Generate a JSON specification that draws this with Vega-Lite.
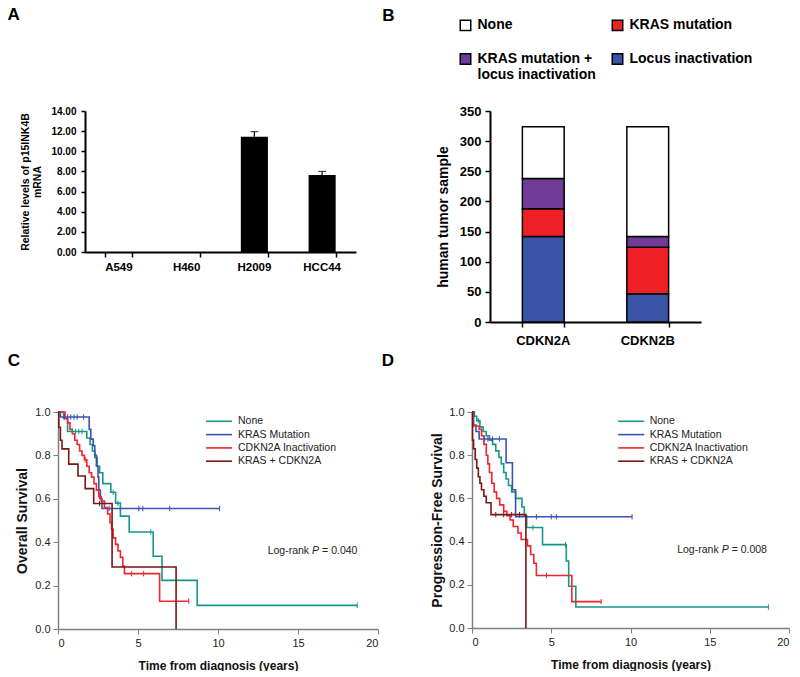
{
  "$schema": "https://vega.github.io/schema/vega-lite/v6.json",
  "background": "white",
  "padding": {"left": 7, "top": 6, "right": 0, "bottom": 0},
  "config": {
    "view": {"stroke": null},
    "font": "Liberation Sans",
    "axis": {"grid": false, "labelOverlap": false},
    "title": {"font": "Liberation Sans", "fontSize": 17, "fontWeight": "bold", "anchor": "start", "color": "black", "frame": "bounds"}
  },
  "resolve": {
    "scale": {"color": "independent", "strokeWidth": "independent"},
    "legend": {"color": "independent", "strokeWidth": "independent"}
  },
  "datasets": {
    "cells": [
      {"cell": "A549", "value": 0},
      {"cell": "H460", "value": 0},
      {"cell": "H2009", "value": 11.45, "upper": 11.95},
      {"cell": "HCC44", "value": 7.65, "upper": 8.0}
    ],
    "tumors": [
      {"gene": "CDKN2A", "category": "Locus inactivation", "count": 142},
      {"gene": "CDKN2A", "category": "KRAS mutation", "count": 46},
      {"gene": "CDKN2A", "category": "KRAS mutation + locus inactivation", "count": 50},
      {"gene": "CDKN2A", "category": "None", "count": 86},
      {"gene": "CDKN2B", "category": "Locus inactivation", "count": 47},
      {"gene": "CDKN2B", "category": "KRAS mutation", "count": 77},
      {"gene": "CDKN2B", "category": "KRAS mutation + locus inactivation", "count": 18},
      {"gene": "CDKN2B", "category": "None", "count": 182}
    ],
    "os": [
      {"group": "None", "t": 0, "s": 1.0}, {"group": "None", "t": 0.35, "s": 0.97}, {"group": "None", "t": 0.6, "s": 0.91}, {"group": "None", "t": 1.8, "s": 0.88}, {"group": "None", "t": 2.0, "s": 0.85}, {"group": "None", "t": 2.15, "s": 0.82}, {"group": "None", "t": 2.3, "s": 0.79}, {"group": "None", "t": 2.45, "s": 0.75}, {"group": "None", "t": 2.6, "s": 0.72}, {"group": "None", "t": 2.8, "s": 0.67}, {"group": "None", "t": 3.3, "s": 0.63}, {"group": "None", "t": 3.6, "s": 0.58}, {"group": "None", "t": 3.9, "s": 0.52}, {"group": "None", "t": 4.45, "s": 0.447}, {"group": "None", "t": 5.95, "s": 0.335}, {"group": "None", "t": 6.5, "s": 0.224}, {"group": "None", "t": 8.7, "s": 0.109}, {"group": "None", "t": 18.7, "s": 0.109},
      {"group": "KRAS Mutation", "t": 0, "s": 1.0}, {"group": "KRAS Mutation", "t": 0.15, "s": 0.977}, {"group": "KRAS Mutation", "t": 1.95, "s": 0.92}, {"group": "KRAS Mutation", "t": 2.05, "s": 0.875}, {"group": "KRAS Mutation", "t": 2.2, "s": 0.845}, {"group": "KRAS Mutation", "t": 2.3, "s": 0.8}, {"group": "KRAS Mutation", "t": 2.4, "s": 0.75}, {"group": "KRAS Mutation", "t": 2.5, "s": 0.7}, {"group": "KRAS Mutation", "t": 2.55, "s": 0.64}, {"group": "KRAS Mutation", "t": 2.65, "s": 0.6}, {"group": "KRAS Mutation", "t": 2.75, "s": 0.555}, {"group": "KRAS Mutation", "t": 10.1, "s": 0.555},
      {"group": "CDKN2A Inactivation", "t": 0, "s": 1.0}, {"group": "CDKN2A Inactivation", "t": 0.44, "s": 0.97}, {"group": "CDKN2A Inactivation", "t": 0.6, "s": 0.95}, {"group": "CDKN2A Inactivation", "t": 0.75, "s": 0.92}, {"group": "CDKN2A Inactivation", "t": 0.9, "s": 0.9}, {"group": "CDKN2A Inactivation", "t": 1.05, "s": 0.87}, {"group": "CDKN2A Inactivation", "t": 1.2, "s": 0.85}, {"group": "CDKN2A Inactivation", "t": 1.35, "s": 0.82}, {"group": "CDKN2A Inactivation", "t": 1.5, "s": 0.8}, {"group": "CDKN2A Inactivation", "t": 1.65, "s": 0.78}, {"group": "CDKN2A Inactivation", "t": 1.8, "s": 0.75}, {"group": "CDKN2A Inactivation", "t": 1.95, "s": 0.72}, {"group": "CDKN2A Inactivation", "t": 2.1, "s": 0.7}, {"group": "CDKN2A Inactivation", "t": 2.25, "s": 0.67}, {"group": "CDKN2A Inactivation", "t": 2.4, "s": 0.64}, {"group": "CDKN2A Inactivation", "t": 2.55, "s": 0.61}, {"group": "CDKN2A Inactivation", "t": 2.7, "s": 0.59}, {"group": "CDKN2A Inactivation", "t": 2.9, "s": 0.56}, {"group": "CDKN2A Inactivation", "t": 3.1, "s": 0.53}, {"group": "CDKN2A Inactivation", "t": 3.25, "s": 0.49}, {"group": "CDKN2A Inactivation", "t": 3.35, "s": 0.46}, {"group": "CDKN2A Inactivation", "t": 3.45, "s": 0.42}, {"group": "CDKN2A Inactivation", "t": 3.6, "s": 0.39}, {"group": "CDKN2A Inactivation", "t": 3.75, "s": 0.36}, {"group": "CDKN2A Inactivation", "t": 3.9, "s": 0.33}, {"group": "CDKN2A Inactivation", "t": 4.05, "s": 0.29}, {"group": "CDKN2A Inactivation", "t": 4.15, "s": 0.255}, {"group": "CDKN2A Inactivation", "t": 6.35, "s": 0.128}, {"group": "CDKN2A Inactivation", "t": 8.17, "s": 0.128},
      {"group": "KRAS + CDKN2A", "t": 0, "s": 1.0}, {"group": "KRAS + CDKN2A", "t": 0.05, "s": 0.93}, {"group": "KRAS + CDKN2A", "t": 0.15, "s": 0.87}, {"group": "KRAS + CDKN2A", "t": 0.25, "s": 0.83}, {"group": "KRAS + CDKN2A", "t": 0.67, "s": 0.76}, {"group": "KRAS + CDKN2A", "t": 1.25, "s": 0.705}, {"group": "KRAS + CDKN2A", "t": 1.7, "s": 0.647}, {"group": "KRAS + CDKN2A", "t": 2.23, "s": 0.578}, {"group": "KRAS + CDKN2A", "t": 3.38, "s": 0.286}, {"group": "KRAS + CDKN2A", "t": 7.38, "s": 0}
    ],
    "os_cens": [
      {"group": "None", "t": 0.9, "s": 0.91}, {"group": "None", "t": 1.1, "s": 0.91}, {"group": "None", "t": 1.3, "s": 0.91}, {"group": "None", "t": 1.5, "s": 0.91}, {"group": "None", "t": 3.45, "s": 0.63}, {"group": "None", "t": 3.75, "s": 0.58}, {"group": "None", "t": 5.8, "s": 0.447}, {"group": "None", "t": 18.7, "s": 0.109},
      {"group": "KRAS Mutation", "t": 0.4, "s": 0.977}, {"group": "KRAS Mutation", "t": 0.6, "s": 0.977}, {"group": "KRAS Mutation", "t": 0.8, "s": 0.977}, {"group": "KRAS Mutation", "t": 1.0, "s": 0.977}, {"group": "KRAS Mutation", "t": 1.2, "s": 0.977}, {"group": "KRAS Mutation", "t": 1.6, "s": 0.977}, {"group": "KRAS Mutation", "t": 3.2, "s": 0.555}, {"group": "KRAS Mutation", "t": 5.05, "s": 0.555}, {"group": "KRAS Mutation", "t": 5.3, "s": 0.555}, {"group": "KRAS Mutation", "t": 6.98, "s": 0.555}, {"group": "KRAS Mutation", "t": 10.1, "s": 0.555},
      {"group": "CDKN2A Inactivation", "t": 1.7, "s": 0.78}, {"group": "CDKN2A Inactivation", "t": 2.6, "s": 0.61}, {"group": "CDKN2A Inactivation", "t": 4.6, "s": 0.255}, {"group": "CDKN2A Inactivation", "t": 5.35, "s": 0.255}, {"group": "CDKN2A Inactivation", "t": 8.17, "s": 0.128},
      {"group": "KRAS + CDKN2A", "t": 2.6, "s": 0.578}
    ],
    "pfs": [
      {"group": "None", "t": 0, "s": 1.0}, {"group": "None", "t": 0.15, "s": 0.98}, {"group": "None", "t": 0.3, "s": 0.96}, {"group": "None", "t": 0.5, "s": 0.93}, {"group": "None", "t": 0.7, "s": 0.91}, {"group": "None", "t": 0.9, "s": 0.89}, {"group": "None", "t": 1.1, "s": 0.87}, {"group": "None", "t": 1.3, "s": 0.85}, {"group": "None", "t": 1.5, "s": 0.82}, {"group": "None", "t": 1.7, "s": 0.79}, {"group": "None", "t": 1.85, "s": 0.76}, {"group": "None", "t": 2.0, "s": 0.72}, {"group": "None", "t": 2.15, "s": 0.69}, {"group": "None", "t": 2.3, "s": 0.66}, {"group": "None", "t": 2.5, "s": 0.63}, {"group": "None", "t": 2.75, "s": 0.6}, {"group": "None", "t": 3.15, "s": 0.56}, {"group": "None", "t": 3.3, "s": 0.52}, {"group": "None", "t": 3.45, "s": 0.465}, {"group": "None", "t": 4.45, "s": 0.386}, {"group": "None", "t": 5.95, "s": 0.31}, {"group": "None", "t": 6.1, "s": 0.193}, {"group": "None", "t": 6.55, "s": 0.097}, {"group": "None", "t": 18.7, "s": 0.097},
      {"group": "KRAS Mutation", "t": 0, "s": 1.0}, {"group": "KRAS Mutation", "t": 0.1, "s": 0.94}, {"group": "KRAS Mutation", "t": 0.25, "s": 0.91}, {"group": "KRAS Mutation", "t": 0.45, "s": 0.875}, {"group": "KRAS Mutation", "t": 2.15, "s": 0.765}, {"group": "KRAS Mutation", "t": 2.55, "s": 0.64}, {"group": "KRAS Mutation", "t": 2.75, "s": 0.515}, {"group": "KRAS Mutation", "t": 10.1, "s": 0.515},
      {"group": "CDKN2A Inactivation", "t": 0, "s": 1.0}, {"group": "CDKN2A Inactivation", "t": 0.05, "s": 0.935}, {"group": "CDKN2A Inactivation", "t": 0.45, "s": 0.92}, {"group": "CDKN2A Inactivation", "t": 0.6, "s": 0.89}, {"group": "CDKN2A Inactivation", "t": 0.75, "s": 0.85}, {"group": "CDKN2A Inactivation", "t": 0.9, "s": 0.8}, {"group": "CDKN2A Inactivation", "t": 1.0, "s": 0.76}, {"group": "CDKN2A Inactivation", "t": 1.1, "s": 0.72}, {"group": "CDKN2A Inactivation", "t": 1.25, "s": 0.67}, {"group": "CDKN2A Inactivation", "t": 1.4, "s": 0.63}, {"group": "CDKN2A Inactivation", "t": 1.55, "s": 0.6}, {"group": "CDKN2A Inactivation", "t": 1.75, "s": 0.57}, {"group": "CDKN2A Inactivation", "t": 2.0, "s": 0.54}, {"group": "CDKN2A Inactivation", "t": 2.2, "s": 0.52}, {"group": "CDKN2A Inactivation", "t": 2.4, "s": 0.5}, {"group": "CDKN2A Inactivation", "t": 2.6, "s": 0.47}, {"group": "CDKN2A Inactivation", "t": 2.9, "s": 0.44}, {"group": "CDKN2A Inactivation", "t": 3.1, "s": 0.41}, {"group": "CDKN2A Inactivation", "t": 3.5, "s": 0.38}, {"group": "CDKN2A Inactivation", "t": 3.7, "s": 0.34}, {"group": "CDKN2A Inactivation", "t": 3.9, "s": 0.3}, {"group": "CDKN2A Inactivation", "t": 4.06, "s": 0.243}, {"group": "CDKN2A Inactivation", "t": 6.3, "s": 0.122}, {"group": "CDKN2A Inactivation", "t": 8.15, "s": 0.122},
      {"group": "KRAS + CDKN2A", "t": 0, "s": 1.0}, {"group": "KRAS + CDKN2A", "t": 0.03, "s": 0.87}, {"group": "KRAS + CDKN2A", "t": 0.1, "s": 0.83}, {"group": "KRAS + CDKN2A", "t": 0.2, "s": 0.78}, {"group": "KRAS + CDKN2A", "t": 0.3, "s": 0.74}, {"group": "KRAS + CDKN2A", "t": 0.4, "s": 0.7}, {"group": "KRAS + CDKN2A", "t": 0.5, "s": 0.67}, {"group": "KRAS + CDKN2A", "t": 0.6, "s": 0.64}, {"group": "KRAS + CDKN2A", "t": 0.75, "s": 0.61}, {"group": "KRAS + CDKN2A", "t": 0.9, "s": 0.58}, {"group": "KRAS + CDKN2A", "t": 1.2, "s": 0.525}, {"group": "KRAS + CDKN2A", "t": 3.4, "s": 0}
    ],
    "pfs_cens": [
      {"group": "None", "t": 0.4, "s": 0.96}, {"group": "None", "t": 3.85, "s": 0.465}, {"group": "None", "t": 5.9, "s": 0.386}, {"group": "None", "t": 18.7, "s": 0.097},
      {"group": "KRAS Mutation", "t": 0.8, "s": 0.875}, {"group": "KRAS Mutation", "t": 1.0, "s": 0.875}, {"group": "KRAS Mutation", "t": 1.3, "s": 0.875}, {"group": "KRAS Mutation", "t": 1.73, "s": 0.875}, {"group": "KRAS Mutation", "t": 4.06, "s": 0.515}, {"group": "KRAS Mutation", "t": 5.0, "s": 0.515}, {"group": "KRAS Mutation", "t": 5.32, "s": 0.515}, {"group": "KRAS Mutation", "t": 10.1, "s": 0.515},
      {"group": "CDKN2A Inactivation", "t": 4.7, "s": 0.243}, {"group": "CDKN2A Inactivation", "t": 8.15, "s": 0.122},
      {"group": "KRAS + CDKN2A", "t": 1.5, "s": 0.525}, {"group": "KRAS + CDKN2A", "t": 2.0, "s": 0.525}, {"group": "KRAS + CDKN2A", "t": 2.5, "s": 0.525}, {"group": "KRAS + CDKN2A", "t": 3.0, "s": 0.525}
    ]
  },
  "columns": 1,
  "align": "none",
  "spacing": 5,
  "concat": [
    {
      "spacing": 26,
      "resolve": {"scale": {"color": "independent"}, "legend": {"color": "independent"}},
      "hconcat": [
        {
          "data": {"name": "cells"},
          "width": 298,
          "height": 141,
          "title": {"text": "A", "offset": 82, "dx": -13},
          "resolve": {"axis": {"x": "independent"}},
          "encoding": {
            "x": {"field": "cell", "type": "nominal", "sort": ["A549", "H460", "H2009", "HCC44"], "scale": {"range": [27, 298], "paddingInner": 0.6, "paddingOuter": 0.3},
              "axis": {"title": null, "labelAngle": 0, "labelFontSize": 11.5, "labelFontWeight": "bold", "labelColor": "black", "labelPadding": 9, "domainColor": "black", "domainWidth": 2, "ticks": false}},
            "y": {"field": "value", "type": "quantitative", "scale": {"domain": [0, 14], "nice": false},
              "axis": {"offset": -27, "values": [0, 2, 4, 6, 8, 10, 12, 14], "labelOverlap": false, "format": ".2f", "title": ["Relative levels of p15INK4B", "mRNA"], "titleFontSize": 10.5, "titleFontWeight": "bold", "titleColor": "black", "titlePadding": 8, "labelFontSize": 10, "labelFontWeight": "bold", "labelColor": "black", "labelPadding": 5, "domainColor": "black", "domainWidth": 2, "tickColor": "black", "tickWidth": 1.5, "tickSize": 4}}
          },
          "layer": [
            {"mark": {"type": "bar", "color": "black"}},
            {"transform": [{"filter": "isValid(datum.upper)"}], "mark": {"type": "rule", "color": "black", "strokeWidth": 1.2},
             "encoding": {
               "x": {"field": "cell", "type": "nominal", "sort": ["A549", "H460", "H2009", "HCC44"],
                 "axis": {"orient": "bottom", "title": null, "labels": false, "domain": false, "ticks": true, "tickBand": "extent", "tickOffset": -20.3, "tickColor": "black", "tickWidth": 1.5, "tickSize": 5}},
               "y2": {"field": "upper"}}},
            {"transform": [{"filter": "isValid(datum.upper)"}], "mark": {"type": "tick", "color": "black", "size": 8, "thickness": 1.2},
             "encoding": {
               "x": {"field": "cell", "type": "nominal", "sort": ["A549", "H460", "H2009", "HCC44"], "axis": null},
               "y": {"field": "upper", "type": "quantitative",
               "axis": {"offset": -27, "values": [0, 2, 4, 6, 8, 10, 12, 14], "labelOverlap": false, "format": ".2f", "title": ["Relative levels of p15INK4B", "mRNA"], "titleFontSize": 10.5, "titleFontWeight": "bold", "titleColor": "black", "titlePadding": 8, "labelFontSize": 10, "labelFontWeight": "bold", "labelColor": "black", "labelPadding": 5, "domainColor": "black", "domainWidth": 2, "tickColor": "black", "tickWidth": 1.5, "tickSize": 4}}}}
          ]
        },
        {
          "data": {"name": "tumors"},
          "width": 211,
          "height": 211,
          "title": {"text": "B", "offset": -7, "dx": -54},
          "transform": [{"calculate": "indexof(['Locus inactivation', 'KRAS mutation', 'KRAS mutation + locus inactivation', 'None'], datum.category)", "as": "stack_order"}],
          "resolve": {"axis": {"x": "independent"}},
          "layer": [
            {
              "mark": {"type": "bar", "stroke": "black", "strokeWidth": 1.5},
              "encoding": {
                "x": {"field": "gene", "type": "nominal", "scale": {"paddingInner": 0.6, "paddingOuter": 0.31},
                  "axis": {"title": null, "labelAngle": 0, "labelFontSize": 13, "labelFontWeight": "bold", "labelColor": "black", "labelPadding": 12, "domainColor": "black", "domainWidth": 2, "ticks": false}},
                "y": {"field": "count", "type": "quantitative", "stack": "zero", "scale": {"domain": [0, 350], "nice": false},
                  "axis": {"values": [0, 50, 100, 150, 200, 250, 300, 350], "title": "human tumor sample", "titleFontSize": 14, "titleFontWeight": "bold", "titleColor": "black", "titlePadding": 9, "labelFontSize": 13, "labelFontWeight": "bold", "labelColor": "black", "labelPadding": 4, "domainColor": "black", "domainWidth": 2, "tickColor": "black", "tickWidth": 1.5, "tickSize": 5}},
                "color": {"field": "category", "type": "nominal",
                  "scale": {"domain": ["None", "KRAS mutation", "KRAS mutation + locus inactivation", "Locus inactivation"], "range": ["#ffffff", "#ee2026", "#6f3b96", "#3a55a6"]},
                  "legend": {"title": null, "orient": "none", "direction": "horizontal", "legendX": -31.5, "legendY": -93, "columns": 2, "columnPadding": 12, "rowPadding": 16, "padding": 0,
                    "symbolType": "square", "symbolSize": 110, "symbolStrokeColor": "black", "symbolStrokeWidth": 1.5,
                    "labelFontSize": 14, "labelFontWeight": "bold", "labelColor": "black", "labelOffset": 5, "labelLimit": 300,
                    "labelExpr": "datum.label == 'KRAS mutation + locus inactivation' ? ['KRAS mutation +', 'locus inactivation'] : datum.label"}},
                "order": {"field": "stack_order", "type": "quantitative"}
              }
            },
            {
              "mark": {"type": "rule", "opacity": 0},
              "encoding": {
                "x": {"field": "gene", "type": "nominal",
                  "axis": {"orient": "bottom", "title": null, "labels": false, "domain": false, "ticks": true, "tickBand": "extent", "tickOffset": -31.3, "tickColor": "black", "tickWidth": 1.5, "tickSize": 5}}
              }
            }
          ]
        }
      ]
    },
    {
      "spacing": 2,
      "resolve": {"scale": {"color": "independent", "strokeWidth": "independent"}, "legend": {"color": "independent", "strokeWidth": "independent"}},
      "hconcat": [
        {
          "width": 320,
          "height": 217,
          "title": {"text": "C", "offset": 36, "dx": -8},
          "layer": [
            {"data": {"name": "os"}, "mark": {"type": "line", "interpolate": "step-after"},
             "encoding": {
               "x": {"field": "t", "type": "quantitative", "scale": {"domain": [0, 20], "nice": false},
                 "axis": {"values": [0, 5, 10, 15, 20], "title": "Time from diagnosis (years)", "titleFontSize": 12, "titleFontWeight": "bold", "titleColor": "#111", "titlePadding": 12, "labelFontSize": 11, "labelColor": "#222", "labelPadding": 3, "domainColor": "#808080", "domainWidth": 1.5, "tickColor": "#808080", "tickSize": 5}},
               "y": {"field": "s", "type": "quantitative", "scale": {"domain": [0, 1], "nice": false},
                 "axis": {"values": [0, 0.2, 0.4, 0.6, 0.8, 1.0], "format": ".1f", "title": "Overall Survival", "titleFontSize": 14, "titleFontWeight": "bold", "titleColor": "#111", "titlePadding": 5, "labelFontSize": 11, "labelColor": "#222", "labelPadding": 3, "domainColor": "#808080", "domainWidth": 1.5, "tickColor": "#808080", "tickSize": 5}},
               "color": {"field": "group", "type": "nominal",
                 "scale": {"domain": ["None", "KRAS Mutation", "CDKN2A Inactivation", "KRAS + CDKN2A"], "range": ["#17968a", "#3b52b3", "#f0262c", "#7a1616"]},
                 "legend": {"title": null, "orient": "none", "legendX": 153.5, "legendY": 1.8, "padding": 0, "rowPadding": 0.3, "symbolType": "M-2,0H2", "symbolSize": 169, "labelFontSize": 10.5, "labelColor": "#222", "labelOffset": 11.5}},
               "strokeWidth": {"field": "group", "type": "ordinal",
                 "scale": {"domain": ["None", "KRAS Mutation", "CDKN2A Inactivation", "KRAS + CDKN2A"], "range": [1.6, 1.6, 1.6, 3.2]},
                 "legend": {"title": null, "orient": "none", "legendX": 153.5, "legendY": 1.8, "padding": 0, "rowPadding": 0.3, "symbolType": "M-2,0H2", "symbolSize": 169, "labelFontSize": 10.5, "labelColor": "#222", "labelOffset": 11.5}}
             }},
            {"data": {"name": "os_cens"}, "mark": {"type": "point", "shape": "M0,-1L0,1", "size": 30, "strokeWidth": 1, "filled": false, "opacity": 1},
             "encoding": {"x": {"field": "t", "type": "quantitative"}, "y": {"field": "s", "type": "quantitative"}, "color": {"field": "group", "type": "nominal"}}},
            {"data": {"values": [{}]}, "mark": {"type": "text", "align": "right", "baseline": "middle", "dx": -3, "fontSize": 10.5, "color": "#222"},
             "encoding": {"x": {"datum": 15.88}, "y": {"datum": 0.358}, "text": {"value": "Log-rank"}}},
            {"data": {"values": [{}]}, "mark": {"type": "text", "align": "left", "baseline": "middle", "fontSize": 10.5, "fontStyle": "italic", "color": "#222"},
             "encoding": {"x": {"datum": 15.88}, "y": {"datum": 0.358}, "text": {"value": "P"}}},
            {"data": {"values": [{}]}, "mark": {"type": "text", "align": "left", "baseline": "middle", "dx": 10, "fontSize": 10.5, "color": "#222"},
             "encoding": {"x": {"datum": 15.88}, "y": {"datum": 0.358}, "text": {"value": "= 0.040"}}}
          ]
        },
        {
          "width": 317,
          "height": 216,
          "title": {"text": "D", "offset": 36, "dx": -49},
          "layer": [
            {"data": {"name": "pfs"}, "mark": {"type": "line", "interpolate": "step-after"},
             "encoding": {
               "x": {"field": "t", "type": "quantitative", "scale": {"domain": [0, 20], "nice": false},
                 "axis": {"values": [0, 5, 10, 15, 20], "title": "Time from diagnosis (years)", "titleFontSize": 12, "titleFontWeight": "bold", "titleColor": "#111", "titlePadding": 12, "labelFontSize": 11, "labelColor": "#222", "labelPadding": 3, "domainColor": "#808080", "domainWidth": 1.5, "tickColor": "#808080", "tickSize": 5}},
               "y": {"field": "s", "type": "quantitative", "scale": {"domain": [0, 1], "nice": false},
                 "axis": {"values": [0, 0.2, 0.4, 0.6, 0.8, 1.0], "format": ".1f", "title": "Progression-Free Survival", "titleFontSize": 14, "titleFontWeight": "bold", "titleColor": "#111", "titlePadding": 4, "labelFontSize": 11, "labelColor": "#222", "labelPadding": 3, "domainColor": "#808080", "domainWidth": 1.5, "tickColor": "#808080", "tickSize": 5}},
               "color": {"field": "group", "type": "nominal",
                 "scale": {"domain": ["None", "KRAS Mutation", "CDKN2A Inactivation", "KRAS + CDKN2A"], "range": ["#17968a", "#3b52b3", "#f0262c", "#7a1616"]},
                 "legend": {"title": null, "orient": "none", "legendX": 151.7, "legendY": 1.8, "padding": 0, "rowPadding": 0.3, "symbolType": "M-2,0H2", "symbolSize": 169, "labelFontSize": 10.5, "labelColor": "#222", "labelOffset": 11}},
               "strokeWidth": {"field": "group", "type": "ordinal",
                 "scale": {"domain": ["None", "KRAS Mutation", "CDKN2A Inactivation", "KRAS + CDKN2A"], "range": [1.6, 1.6, 1.6, 3.2]},
                 "legend": {"title": null, "orient": "none", "legendX": 151.7, "legendY": 1.8, "padding": 0, "rowPadding": 0.3, "symbolType": "M-2,0H2", "symbolSize": 169, "labelFontSize": 10.5, "labelColor": "#222", "labelOffset": 11}}
             }},
            {"data": {"name": "pfs_cens"}, "mark": {"type": "point", "shape": "M0,-1L0,1", "size": 30, "strokeWidth": 1, "filled": false, "opacity": 1},
             "encoding": {"x": {"field": "t", "type": "quantitative"}, "y": {"field": "s", "type": "quantitative"}, "color": {"field": "group", "type": "nominal"}}},
            {"data": {"values": [{}]}, "mark": {"type": "text", "align": "right", "baseline": "middle", "dx": -3, "fontSize": 10.5, "color": "#222"},
             "encoding": {"x": {"datum": 15.75}, "y": {"datum": 0.36}, "text": {"value": "Log-rank"}}},
            {"data": {"values": [{}]}, "mark": {"type": "text", "align": "left", "baseline": "middle", "fontSize": 10.5, "fontStyle": "italic", "color": "#222"},
             "encoding": {"x": {"datum": 15.75}, "y": {"datum": 0.36}, "text": {"value": "P"}}},
            {"data": {"values": [{}]}, "mark": {"type": "text", "align": "left", "baseline": "middle", "dx": 10, "fontSize": 10.5, "color": "#222"},
             "encoding": {"x": {"datum": 15.75}, "y": {"datum": 0.36}, "text": {"value": "= 0.008"}}}
          ]
        }
      ]
    }
  ]
}
